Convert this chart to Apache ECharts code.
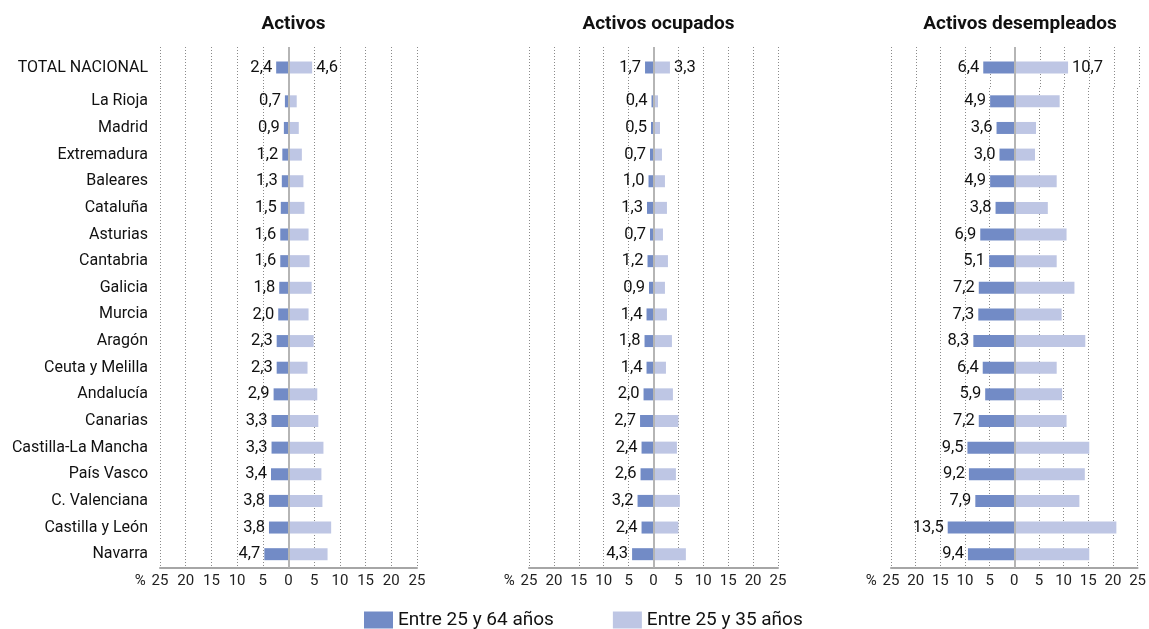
<!DOCTYPE html>
<html><head><meta charset="utf-8">
<script src="https://cdn.jsdelivr.net/npm/echarts@6/dist/echarts.min.js"></script>
<style>html,body{margin:0;padding:0;background:#fff}#c{width:1149px;height:629px}</style>
</head><body><div id="c"></div>
<script>
const regions = ['La Rioja','Madrid','Extremadura','Baleares','Cataluña','Asturias','Cantabria','Galicia','Murcia','Aragón','Ceuta y Melilla','Andalucía','Canarias','Castilla-La Mancha','País Vasco','C. Valenciana','Castilla y León','Navarra'];
const totalLabel = ['TOTAL NACIONAL'];
const panelTitles = ['Activos','Activos ocupados','Activos desempleados'];
const seriesNames = ['Entre 25 y 64 años','Entre 25 y 35 años'];
const xTicks = [-25,-20,-15,-10,-5,0,5,10,15,20,25];

const activos64 = [0.7,0.9,1.2,1.3,1.5,1.6,1.6,1.8,2.0,2.3,2.3,2.9,3.3,3.3,3.4,3.8,3.8,4.7];
const activos35 = [1.6,2.0,2.6,2.9,3.1,3.9,4.1,4.5,3.9,4.9,3.7,5.6,5.8,6.8,6.4,6.6,8.3,7.6];
const ocupados64 = [0.4,0.5,0.7,1.0,1.3,0.7,1.2,0.9,1.4,1.8,1.4,2.0,2.7,2.4,2.6,3.2,2.4,4.3];
const ocupados35 = [0.9,1.3,1.7,2.3,2.7,1.9,2.9,2.3,2.7,3.7,2.5,3.9,5.0,4.7,4.5,5.3,5.0,6.5];
const desemp64 = [4.9,3.6,3.0,4.9,3.8,6.9,5.1,7.2,7.3,8.3,6.4,5.9,7.2,9.5,9.2,7.9,13.5,9.4];
const desemp35 = [9.2,4.4,4.2,8.6,6.8,10.6,8.6,12.2,9.6,14.4,8.6,9.7,10.6,15.2,14.3,13.2,20.7,15.2];
const total64 = [2.4,1.7,6.4];
const total35 = [4.6,3.3,10.7];

const panels = [[activos64,activos35],[ocupados64,ocupados35],[desemp64,desemp35]];
const DARK = '#728bc6', LIGHT = '#bec6e4';
const FONT = 'Roboto';
const fmt = v => Math.abs(v).toFixed(1).replace('.', ',');

const geo = [{left:160,width:257},{left:529,width:249},{left:891,width:248}];
const topT = 47, hT = 41, topR = 88, hR = 479.5;

const grid = [], xAxis = [], yAxis = [], series = [];
geo.forEach((g, p) => {
  grid.push({left:g.left, width:g.width, top:topT, height:hT});
  grid.push({left:g.left, width:g.width, top:topR, height:hR});
  const split = {show:true, lineStyle:{type:[1,2], color:'#8a8a8a', width:1}};
  xAxis.push({gridIndex:2*p, type:'value', min:-25, max:25, interval:5,
    axisLine:{show:false}, axisTick:{show:false}, axisLabel:{show:false}, splitLine:split});
  xAxis.push({gridIndex:2*p+1, type:'value', min:-25, max:25, interval:5,
    name:'%', nameLocation:'start', nameGap:14,
    nameTextStyle:{fontFamily:FONT, fontSize:15, color:'#222', verticalAlign:'top', padding:[6,0,0,0]},
    axisLine:{show:true, onZero:false, lineStyle:{color:'#a6a6a6', width:2}}, axisTick:{show:false},
    axisLabel:{margin:6, fontFamily:FONT, fontSize:15, color:'#222', formatter:v=>String(Math.abs(v))},
    splitLine:split});
  yAxis.push({gridIndex:2*p, type:'category', data:totalLabel,
    axisLine:{show:false}, axisTick:{show:false},
    axisLabel:{show:p===0, margin:12, fontFamily:FONT, fontSize:16, color:'#111'}});
  yAxis.push({gridIndex:2*p+1, type:'category', data:regions, inverse:true,
    axisLine:{show:false}, axisTick:{show:false},
    axisLabel:{show:p===0, margin:12, fontFamily:FONT, fontSize:16, color:'#111'}});
  const zeroLine = {silent:true, symbol:'none', label:{show:false},
    lineStyle:{type:'solid', color:'#b5b5b5', width:2}, data:[{xAxis:0}]};
  const lab = {show:true, fontFamily:FONT, fontSize:16.5, color:'#111', distance:4, formatter:o=>fmt(o.value)};
  series.push({type:'bar', name:seriesNames[0], xAxisIndex:2*p, yAxisIndex:2*p, barWidth:12, barGap:'-100%',
    itemStyle:{color:DARK}, data:[-total64[p]], label:Object.assign({position:'left'},lab), markLine:zeroLine, z:3});
  series.push({type:'bar', name:seriesNames[1], xAxisIndex:2*p, yAxisIndex:2*p, barWidth:12, barGap:'-100%',
    itemStyle:{color:LIGHT}, data:[total35[p]], label:Object.assign({position:'right'},lab), z:2});
  series.push({type:'bar', name:seriesNames[0], xAxisIndex:2*p+1, yAxisIndex:2*p+1, barWidth:12, barGap:'-100%',
    itemStyle:{color:DARK}, data:panels[p][0].map(v=>-v), label:Object.assign({position:'left'},lab), markLine:zeroLine, z:3});
  series.push({type:'bar', name:seriesNames[1], xAxisIndex:2*p+1, yAxisIndex:2*p+1, barWidth:12, barGap:'-100%',
    itemStyle:{color:LIGHT}, data:panels[p][1], z:2});
});

const titles = panelTitles.map((t, p) => ({
  text:t, left: geo[p].left + geo[p].width/2, top:10, textAlign:'center',
  textStyle:{fontFamily:FONT, fontSize:19, fontWeight:'bold', color:'#111'}
}));

const chart = echarts.init(document.getElementById('c'), null, {renderer:'canvas'});
chart.setOption({
  animation:false,
  title: titles,
  legend:{data:seriesNames, left:364, top:608, padding:0, itemWidth:29, itemHeight:17, itemGap:59,
    icon:'rect', textStyle:{fontFamily:FONT, fontSize:19, color:'#111', lineHeight:24}},
  grid, xAxis, yAxis, series
});
</script></body></html>
